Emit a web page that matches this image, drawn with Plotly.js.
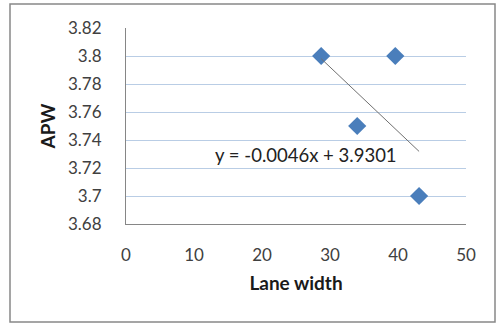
<!DOCTYPE html>
<html>
<head>
<meta charset="utf-8">
<script src="https://cdn.plot.ly/plotly-3.0.1.min.js"></script>
<style>
html,body{margin:0;padding:0;background:#fff;}
#chart{width:501px;height:325px;}
</style>
</head>
<body>
<div id="chart"></div>
<script>
// Data
const laneWidth = [28.7, 39.6, 34.0, 43.1];
const apw = [3.80, 3.80, 3.75, 3.70];
// Linear trendline coefficients shown on the chart
const trendSlope = -0.0046;
const trendIntercept = 3.9301;
const trendLabel = 'y = -0.0046x + 3.9301';
const xTitle = 'Lane width';
const yTitle = 'APW';

const xMin = Math.min(...laneWidth), xMax = Math.max(...laneWidth);
const trendX = [xMin, xMax];
const trendY = trendX.map(v => trendSlope * v + trendIntercept);

const fontFam = 'Lato, "Open Sans", sans-serif';
const W = 501, H = 325;
const m = {l: 126, r: 35, t: 28, b: 101};
const pw = W - m.l - m.r, ph = H - m.t - m.b;
const px = v => (v - m.l) / pw;
const py = v => (H - m.b - v) / ph;

const data = [
  {
    x: laneWidth, y: apw, type: 'scatter', mode: 'markers',
    marker: {symbol: 'diamond', size: 14, color: '#4a7ebb', line: {width: 0}},
    hoverinfo: 'x+y'
  },
  {
    x: trendX, y: trendY, type: 'scatter', mode: 'lines',
    line: {color: '#707070', width: 1}, hoverinfo: 'skip'
  }
];

const layout = {
  width: W, height: H,
  margin: m,
  paper_bgcolor: '#ffffff', plot_bgcolor: '#ffffff',
  showlegend: false,
  font: {family: fontFam, size: 17, color: '#404040'},
  xaxis: {
    range: [0, 50], dtick: 10, tick0: 0,
    showgrid: false, zeroline: false,
    showline: true, linecolor: '#868686', linewidth: 1,
    ticks: '', ticklabelstandoff: 16,
    tickfont: {family: fontFam, size: 17, color: '#404040'},
    title: {text: xTitle, font: {family: fontFam, size: 19, color: '#1a1a1a', weight: 'bold'}, standoff: 12}
  },
  yaxis: {
    range: [3.68, 3.82], dtick: 0.02, tick0: 3.68,
    showgrid: true, gridcolor: '#b9cde5', gridwidth: 1,
    zeroline: false,
    showline: true, linecolor: '#868686', linewidth: 1,
    ticks: '', ticklabelstandoff: 20,
    tickfont: {family: fontFam, size: 17, color: '#404040'},
    title: {text: yTitle, font: {family: fontFam, size: 19, color: '#1a1a1a', weight: 'bold'}, standoff: 7}
  },
  annotations: [
    {
      text: trendLabel, xref: 'x', yref: 'y', x: 26.5, y: 3.7295,
      showarrow: false, xanchor: 'center', yanchor: 'middle',
      font: {family: fontFam, size: 18.5, color: '#222222'}
    }
  ],
  shapes: [
    {
      type: 'rect', xref: 'paper', yref: 'paper',
      x0: px(10), x1: px(495), y0: py(322), y1: py(4),
      line: {color: '#888888', width: 1.5}, fillcolor: 'rgba(0,0,0,0)', layer: 'below'
    }
  ]
};

Plotly.newPlot('chart', data, layout, {displayModeBar: false, staticPlot: true});
</script>
</body>
</html>
